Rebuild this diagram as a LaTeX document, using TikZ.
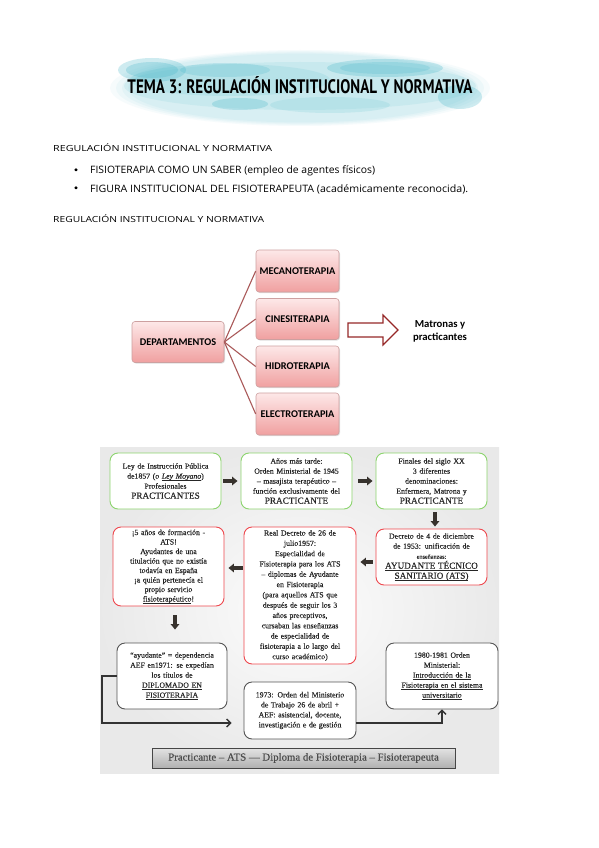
\documentclass[tikz,border=0pt]{standalone}
\usepackage{fontspec}
\usepackage{graphicx}
\setmainfont{Liberation Serif}[FakeBold=0.35]
\newfontfamily\calib{Carlito}
\newfontfamily\handf{Open Sans}
\newfontfamily\titlef{PT Sans}
\usetikzlibrary{arrows.meta,shadows,calc}
\definecolor{teal1}{RGB}{110,200,212}
\definecolor{teal2}{RGB}{60,178,198}
\definecolor{smtop}{RGB}{253,232,232}
\definecolor{smbot}{RGB}{240,160,160}
\definecolor{smbd}{RGB}{205,160,160}
\definecolor{smln}{RGB}{170,90,90}
\definecolor{arrred}{RGB}{150,40,40}
\definecolor{gbd}{RGB}{140,212,110}
\definecolor{rbd}{RGB}{238,72,78}
\definecolor{kbd}{RGB}{85,85,85}
\definecolor{arrc}{RGB}{55,50,45}
\tikzset{
  smbox/.style={draw=smbd, line width=0.6pt, rounded corners=3pt, top color=smtop, bottom color=smbot,
    font=\calib\bfseries\fontsize{10.3}{12}\selectfont, inner sep=0pt,
    drop shadow={opacity=0.25, shadow xshift=1pt, shadow yshift=-1pt}},
  fbox/.style={fill=white, line width=0.9pt, rounded corners=8pt, align=center, inner sep=0pt,
    text width=110pt, text=black!85, font=\fontsize{7.8}{10}\selectfont},
  gbox/.style={fbox, draw=gbd},
  rbox/.style={fbox, draw=rbd},
  kbox/.style={fbox, draw=kbd},
  barr/.style={draw=arrc, line width=3.4pt, -{Triangle[width=8.5pt,length=5.5pt]}},
  tarr/.style={draw=black!80, line width=1.3pt, -{Straight Barb[length=4pt,width=8pt]}},
  hand/.style={anchor=west, inner sep=0pt, font=\handf},
}
\newcommand{\bigtxt}[1]{{\fontsize{9.2}{10}\selectfont #1}}
\newcommand{\ulx}[1]{\underline{\smash{#1}}}
\begin{document}
\begin{tikzpicture}[x=1pt,y=-1pt]
\useasboundingbox (0,0) rectangle (599,848);
\fill[white] (0,0) rectangle (599,848);
% watercolor banner
\foreach \r/\o in {190/0.06,184/0.07,178/0.08,172/0.08}
  \fill[teal1,opacity=\o] (300,88) ellipse (\r pt and {0.2*\r pt});
\fill[teal1,opacity=0.15] (300,86) ellipse (176 and 24);
\fill[teal1,opacity=0.2] (230,80) ellipse (100 and 16);
\fill[teal2,opacity=0.25] (152,70) ellipse (34 and 12);
\fill[teal2,opacity=0.25] (152,70) ellipse (26 and 8);
\fill[teal2,opacity=0.2] (225,70) ellipse (45 and 7);
\fill[teal2,opacity=0.25] (385,68) ellipse (58 and 9);
\fill[teal2,opacity=0.2] (385,68) ellipse (45 and 6);
\fill[teal2,opacity=0.25] (240,104) ellipse (28 and 6);
\fill[teal2,opacity=0.25] (460,97) ellipse (22 and 12);
\fill[teal1,opacity=0.2] (330,105) ellipse (60 and 8);
\node[inner sep=0pt] (title) at (300,85) {\resizebox{345pt}{17pt}{\titlef\bfseries TEMA 3: REGULACIÓN INSTITUCIONAL Y NORMATIVA}};
% headings
\node[hand] (h1) at (53,148) {\resizebox{219pt}{7.8pt}{\fontsize{8.5}{10}\selectfont REGULACIÓN INSTITUCIONAL Y NORMATIVA}};
\node[inner sep=0pt] (bu1) at (76,171) {\fontsize{11}{10}\selectfont\textbullet};
\node[hand] (t1) at (90,171) {\resizebox{285pt}{7.8pt}{\fontsize{8.5}{10}\selectfont FISIOTERAPIA COMO UN SABER (empleo de agentes físicos)}};
\node[inner sep=0pt] (bu2) at (76,189) {\fontsize{11}{10}\selectfont\textbullet};
\node[hand] (t2) at (90,189) {\resizebox{378pt}{7.8pt}{\fontsize{8.5}{10}\selectfont FIGURA INSTITUCIONAL DEL FISIOTERAPEUTA (académicamente reconocida).}};
\node[hand] (h2) at (53,219) {\resizebox{211pt}{7.8pt}{\fontsize{8.5}{10}\selectfont REGULACIÓN INSTITUCIONAL Y NORMATIVA}};
% smart art
\node[smbox, minimum width=92pt, minimum height=41pt] (dep) at (178,342) {DEPARTAMENTOS};
\node[smbox, minimum width=83pt, minimum height=42pt] (mec) at (297.5,271) {MECANOTERAPIA};
\node[smbox, minimum width=83pt, minimum height=41pt] (cin) at (297.5,319) {CINESITERAPIA};
\node[smbox, minimum width=83pt, minimum height=41pt] (hid) at (297.5,366.5) {HIDROTERAPIA};
\node[smbox, minimum width=83pt, minimum height=42pt] (ele) at (297.5,414) {ELECTROTERAPIA};
\foreach \n in {mec,cin,hid,ele} \draw[smln, line width=1.1pt] (dep.east) -- (\n.west);
\draw[draw=arrred, line width=1.2pt, fill=white, line join=miter] (348,323) -- (383,323) -- (383,315) -- (398,330) -- (383,345) -- (383,337) -- (348,337) -- cycle;
\node[font=\calib\bfseries\fontsize{10.7}{13}\selectfont, align=center] (mat) at (440,331) {Matronas y\\practicantes};
% diagram 2 background
\shade[inner color=gray!2, outer color=gray!17] (100,447) rectangle (499,773);
\node[gbox, minimum width=111pt, minimum height=56pt] (b1) at (165.5,481) {Ley de Instrucción Pública\\de1857 (o \ulx{\textit{Ley Moyano}})\\Profesionales\\\bigtxt{PRACTICANTES}};
\node[gbox, minimum width=111pt, minimum height=56pt] (b2) at (296.5,481) {Años más tarde:\\Orden Ministerial de 1945\\– masajista terapéutico –\\función exclusivamente del\\\bigtxt{PRACTICANTE}};
\node[gbox, minimum width=111pt, minimum height=56pt] (b3) at (431.5,481) {Finales del siglo XX\\3 diferentes\\denominaciones:\\Enfermera, Matrona y\\\bigtxt{PRACTICANTE}};
\node[rbox, minimum width=111pt, minimum height=56pt] (b4) at (431.5,557) {Decreto de 4 de diciembre\\de 1953: unificación de\\{\fontsize{6.2}{7.5}\selectfont enseñanzas:}\\\bigtxt{\ulx{AYUDANTE TÉCNICO}}\\\bigtxt{\ulx{SANITARIO (ATS)}}};
\node[rbox, minimum width=112pt, minimum height=137pt, font=\fontsize{7.8}{10.3}\selectfont] (b5) at (300,595.5) {Real Decreto de 26 de\\julio1957:\\Especialidad de\\Fisioterapia para los ATS\\– diplomas de Ayudante\\en Fisioterapia\\(para aquellos ATS que\\después de seguir los 3\\años preceptivos,\\cursaban las enseñanzas\\de especialidad de\\fisioterapia a lo largo del\\curso académico)};
\node[rbox, minimum width=111pt, minimum height=79pt, font=\fontsize{7.8}{9.5}\selectfont] (b6) at (168.5,566.5) {¡5 años de formación -\\ATS!\\Ayudantes de una\\titulación que no existía\\todavía en España\\¡a quién pertenecía el\\propio servicio\\\ulx{fisioterapéutico}!};
\node[kbox, minimum width=110pt, minimum height=66pt] (b7) at (172,676) {“ayudante” = dependencia\\AEF en1971: se expedían\\los títulos de\\\ulx{DIPLOMADO EN}\\\ulx{FISIOTERAPIA}};
\node[kbox, minimum width=112pt, minimum height=57pt] (b8) at (300,710.5) {1973: Orden del Ministerio\\de Trabajo 26 de abril +\\AEF: asistencial, docente,\\investigación e de gestión};
\node[kbox, minimum width=112pt, minimum height=66pt] (b9) at (442,676) {1980-1981 Orden\\Ministerial:\\\ulx{Introducción de la}\\\ulx{Fisioterapia en el sistema}\\\ulx{universitario}};
% block arrows
\coordinate (y562) at (0,562);
\coordinate (y568) at (0,568);
\coordinate (x175) at (175,0);
\coordinate (x435) at (435,0);
\draw[barr, shorten <=2pt, shorten >=3pt] (b1.east) -- (b2.west);
\draw[barr, shorten <=6pt, shorten >=3pt] (b2.east) -- (b3.west);
\draw[barr, shorten <=3pt, shorten >=2pt] (b3.south -| x435) -- (b4.north -| x435);
\draw[barr, shorten <=3pt, shorten >=4pt] (b4.west |- y562) -- (b5.east |- y562);
\draw[barr, shorten <=1pt, shorten >=4pt] (b5.west |- y568) -- (b6.east |- y568);
\draw[barr, shorten <=9pt, shorten >=13pt] (b6.south -| x175) -- (b7.north -| x175);
% thin connectors
\coordinate (k1) at (102,723);
\draw[tarr, shorten >=12pt] (b7.west) -| (k1) -- (b8.west |- k1);
\draw[tarr] (b8.east |- k1) -| (b9.south);
% bottom bar
\node[draw=gray!55!black, line width=0.6pt, top color=gray!22, bottom color=gray!62, minimum width=303pt, minimum height=20pt, inner sep=0pt, text=black!70, font=\fontsize{10.8}{12}\selectfont] (bar) at (303.5,758) {Practicante – ATS — Diploma de Fisioterapia – Fisioterapeuta};
\end{tikzpicture}
\end{document}
